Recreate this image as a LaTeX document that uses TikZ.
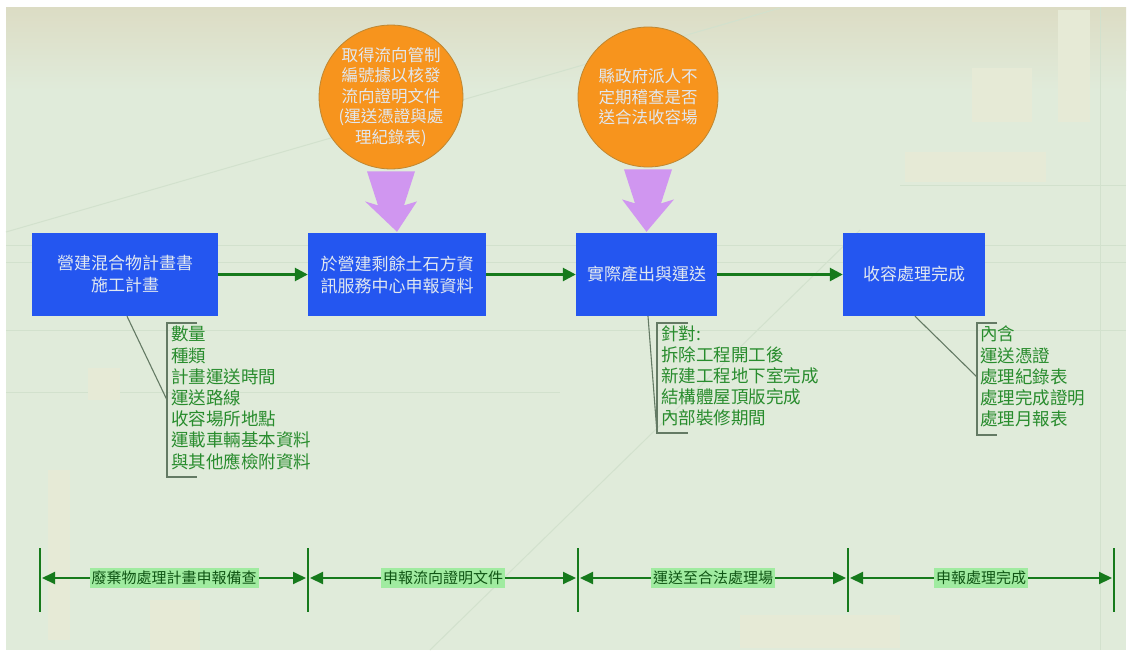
\documentclass[tikz,border=0pt]{standalone}
\usepackage{fontspec}
\setmainfont{Noto Sans CJK TC}
\usetikzlibrary{arrows.meta,calc}
\definecolor{bgtop}{RGB}{220,220,196}
\definecolor{bggreen}{RGB}{224,235,218}
\definecolor{boxblue}{RGB}{36,86,240}
\definecolor{boxtext}{RGB}{225,232,240}
\definecolor{flowgreen}{RGB}{22,122,28}
\definecolor{listgreen}{RGB}{40,140,45}
\definecolor{calloutgray}{RGB}{100,122,100}
\definecolor{circorange}{RGB}{247,148,29}
\definecolor{circedge}{RGB}{190,135,50}
\definecolor{purplearrow}{RGB}{208,150,240}
\definecolor{labelbg}{RGB}{160,235,160}
\definecolor{decor}{RGB}{230,234,214}
\definecolor{decorline}{RGB}{210,225,205}
\tikzset{
  stepbox/.style={draw=none, fill=boxblue, text=boxtext, align=center,
    minimum height=83pt, inner sep=2pt, font=\fontsize{17}{22}\selectfont},
  bubble/.style={circle, draw=circedge, line width=0.8pt, fill=circorange,
    text=boxtext, align=center, minimum size=140pt, inner sep=0pt,
    font=\fontsize{16.5}{20.5}\selectfont},
  flow/.style={draw=flowgreen, line width=2.6pt,
    -{Triangle[length=13pt,width=13pt]}},
  listtext/.style={text=listgreen, align=left, anchor=north west, inner sep=0pt,
    font=\fontsize{17.5}{21.2}\selectfont},
  callout/.style={draw=calloutgray, line width=1.1pt},
  tick/.style={draw=flowgreen, line width=2.6pt},
  dimline/.style={draw=flowgreen, line width=2pt,
    {Triangle[length=13pt,width=12pt]}-{Triangle[length=13pt,width=12pt]}},
  dimlabel/.style={fill=labelbg, text=flowgreen!70!black, inner xsep=2pt, inner ysep=3pt,
    font=\fontsize{15}{16}\selectfont},
  purple/.style={fill=purplearrow, draw=none},
  decorstroke/.style={draw=decorline, line width=1pt}
}
\begin{document}
\begin{tikzpicture}[x=1pt,y=-1pt]
\useasboundingbox (0,0) rectangle (1129,654);
\fill[white] (0,0) rectangle (1129,654);
% background
\fill[bggreen] (6,7) rectangle (1126,650);
\shade[top color=bgtop, bottom color=bggreen] (6,7) rectangle (1126,90);
% faint background decoration
\draw[decorstroke] (6,232) -- (780,8);
\draw[decorstroke] (430,650) -- (860,230);
\draw[decorstroke] (6,245) -- (1126,245);
\draw[decorstroke] (6,262) -- (1126,262);
\draw[decorstroke] (6,330) -- (1126,330);
\draw[decorstroke] (6,392) -- (560,392);
\draw[decorstroke] (900,185) -- (1126,185);
\draw[decorstroke] (1100,7) -- (1100,650);
\fill[decor] (972,68) rectangle (1032,122);
\fill[decor] (1058,10) rectangle (1090,122);
\fill[decor] (905,152) rectangle (1046,182);
\fill[decor] (48,470) rectangle (70,640);
\fill[decor] (150,600) rectangle (200,650);
\fill[decor] (740,615) rectangle (900,648);
\fill[decor] (88,368) rectangle (120,400);
% process boxes
\node[stepbox, minimum width=186pt] (b1) at (125,274.5) {營建混合物計畫書\\施工計畫};
\node[stepbox, minimum width=178pt] (b2) at (397,274.5) {於營建剩餘土石方資\\訊服務中心申報資料};
\node[stepbox, minimum width=141pt] (b3) at (646.5,274.5) {實際產出與運送};
\node[stepbox, minimum width=142pt] (b4) at (914,274.5) {收容處理完成};
\draw[flow] (b1) -- (b2);
\draw[flow] (b2) -- (b3);
\draw[flow] (b3) -- (b4);
% bubbles
\node[bubble] (c1) at (391,97) {取得流向管制\\編號據以核發\\流向證明文件\\(運送憑證與處\\理紀錄表)};
\node[bubble] (c2) at (648,97) {縣政府派人不\\定期稽查是否\\送合法收容場};
\fill[purple] ([xshift=-24pt,yshift=-2pt]c1.south) -- ([xshift=24pt,yshift=-2pt]c1.south)
  -- ([xshift=13pt,yshift=-36pt]c1.south) -- ([xshift=26pt,yshift=-32pt]c1.south)
  -- ([xshift=0pt,yshift=1pt]b2.north)
  -- ([xshift=-26pt,yshift=-32pt]c1.south) -- ([xshift=-13pt,yshift=-36pt]c1.south) -- cycle;
\fill[purple] ([xshift=-24pt,yshift=-2pt]c2.south) -- ([xshift=24pt,yshift=-2pt]c2.south)
  -- ([xshift=13pt,yshift=-36pt]c2.south) -- ([xshift=26pt,yshift=-32pt]c2.south)
  -- ([xshift=0pt,yshift=1pt]b3.north)
  -- ([xshift=-26pt,yshift=-32pt]c2.south) -- ([xshift=-13pt,yshift=-36pt]c2.south) -- cycle;
% callout lists
\node[listtext] (l1) at (171,326) {數量\\種類\\計畫運送時間\\運送路線\\收容場所地點\\運載車輛基本資料\\與其他應檢附資料};
\node[listtext] (l3) at (661,325) {針對:\\拆除工程開工後\\新建工程地下室完成\\結構體屋頂版完成\\內部裝修期間};
\node[listtext] (l4) at (980,326) {內含\\運送憑證\\處理紀錄表\\處理完成證明\\處理月報表};
\coordinate (k1) at (167,400);
\coordinate (k3) at (657,433);
\coordinate (k4) at (977,377);
\draw[callout] (197,323) -- (167,323) -- (167,477) -- (197,477);
\draw[callout] ([xshift=2pt]b1.south) -- (k1);
\draw[callout] (688,323) -- (657,323) -- (657,433) -- (688,433);
\draw[callout] ([xshift=1.5pt]b3.south) -- (k3);
\draw[callout] (997,323) -- (977,323) -- (977,435) -- (997,435);
\draw[callout] ([xshift=1pt]b4.south) -- (k4);
% bottom phase dimension lines
\foreach \i/\x in {0/40,1/308,2/578,3/848,4/1114}{
  \coordinate (t\i) at (\x,578);
  \draw[tick] (\x,548) -- (\x,612);
}
\draw[dimline] ([xshift=2pt]t0) -- ([xshift=-2pt]t1);
\draw[dimline] ([xshift=2pt]t1) -- ([xshift=-2pt]t2);
\draw[dimline] ([xshift=2pt]t2) -- ([xshift=-2pt]t3);
\draw[dimline] ([xshift=2pt]t3) -- ([xshift=-2pt]t4);
\node[dimlabel] (d1) at ($(t0)!0.5!(t1)$) {廢棄物處理計畫申報備查};
\node[dimlabel] (d2) at ($(t1)!0.5!(t2)$) {申報流向證明文件};
\node[dimlabel] (d3) at ($(t2)!0.5!(t3)$) {運送至合法處理場};
\node[dimlabel] (d4) at ($(t3)!0.5!(t4)$) {申報處理完成};
\end{tikzpicture}
\end{document}
